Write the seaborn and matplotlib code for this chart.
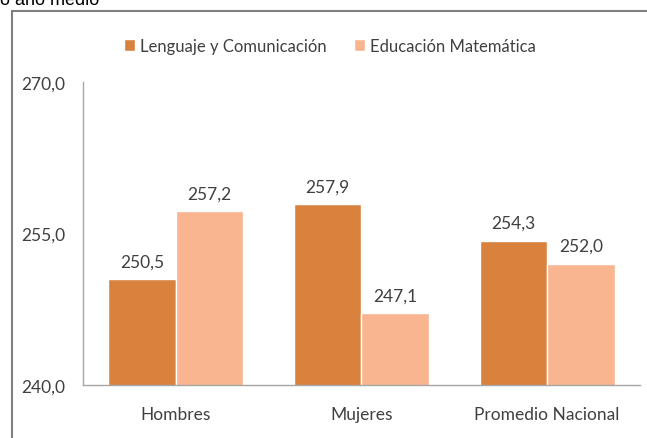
import pandas as pd
import matplotlib
matplotlib.use("Agg")
import matplotlib.pyplot as plt
import seaborn as sns
from matplotlib.patches import Rectangle

grupos = ["Hombres", "Mujeres", "Promedio Nacional"]
lenguaje = [250.5, 257.9, 254.3]
matematica = [257.2, 247.1, 252.0]
asignaturas = ["Lenguaje y Comunicación", "Educación Matemática"]
y_ticks = [240, 255, 270]

df = pd.DataFrame({
    "grupo": grupos * 2,
    "puntaje": lenguaje + matematica,
    "asignatura": [asignaturas[0]] * 3 + [asignaturas[1]] * 3,
})

sns.set_style("white")
plt.rcParams['font.family'] = ['Lato', 'DejaVu Sans']
text_color = "#404040"

fig = plt.figure(figsize=(6.47, 4.39), dpi=100)
ax = fig.add_axes([83 / 647, 53 / 439, 557 / 647, 303 / 439])

sns.barplot(data=df, x="grupo", y="puntaje", hue="asignatura",
            palette=["#D9823D", "#F9B590"], saturation=1, width=0.727,
            ax=ax)

ax.set_ylim(240, 270)
ax.set_yticks(y_ticks)
ax.set_yticklabels([f"{t:.1f}".replace(".", ",") for t in y_ticks])
ax.set_xlabel("")
ax.set_ylabel("")
ax.tick_params(axis="both", length=0, labelsize=12.5, colors=text_color)
ax.tick_params(axis="y", pad=13)
ax.tick_params(axis="x", pad=15)

for c in ax.containers:
    ax.bar_label(c, labels=[f"{b.get_height():.1f}".replace(".", ",") for b in c],
                 padding=7, fontsize=12.5, color=text_color)

for s in ["top", "right"]:
    ax.spines[s].set_visible(False)
for s in ["left", "bottom"]:
    ax.spines[s].set_color("#a6a6a6")
    ax.spines[s].set_linewidth(1.0)

ax.legend_.remove()
handles, labels = ax.get_legend_handles_labels()
fig.legend(handles, labels, loc="center", bbox_to_anchor=(0.51, 1 - 47 / 439),
           ncol=2, frameon=False, fontsize=12, handlelength=0.7, handleheight=0.7,
           handletextpad=0.3, columnspacing=1.6, labelcolor=text_color)

# marco del gráfico, cortado a la derecha y abajo
fig.patches.append(Rectangle((12 / 647, -0.1), 1.1, 1.1 - 12 / 439,
                             transform=fig.transFigure, fill=False,
                             edgecolor="#7f7f7f", linewidth=1.5))

# título recortado en el borde superior, como en la imagen original
fig.text(0.0, 1 - 5 / 439, "o año medio", fontsize=13, va="baseline",
         family="Liberation Sans", color="#000000")

plt.savefig("out.png", dpi=100)
